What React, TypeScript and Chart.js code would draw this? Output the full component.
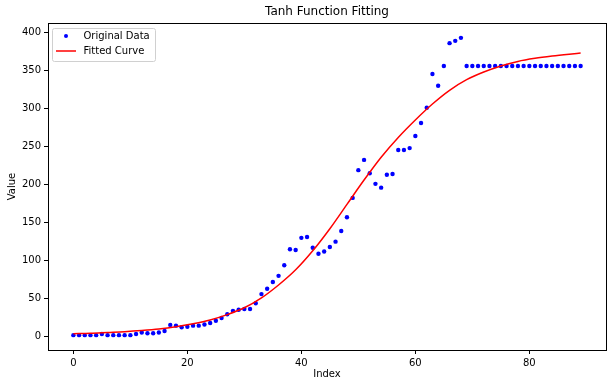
import React, { useEffect, useRef } from "react";
import { Chart, registerables } from "chart.js";

Chart.register(...registerables);

// Original data: index 0..89
const originalValues: number[] = [
  2, 2, 2, 2, 2, 3.5, 2, 2, 2, 2,
  2, 3.5, 5.5, 4.5, 4.5, 5.5, 7.5, 15.5, 14.5, 12.5,
  13, 14.5, 14.5, 16, 18, 21, 24.5, 29.5, 34, 35.5,
  36.5, 36.5, 44, 56, 63, 72, 80, 94, 115, 114,
  130, 131, 117, 109, 112, 118, 125, 139, 157, 182.5,
  219, 232.5, 215, 201, 196, 213, 214, 245.5, 245.5, 248,
  264, 281, 301, 345.5, 330, 356, 386, 389, 393, 356,
  356, 356, 356, 356, 356, 356, 356, 356, 356, 356,
  356, 356, 356, 356, 356, 356, 356, 356, 356, 356,
];

// Fitted curve
const fitIndex: number[] = [0, 3, 6, 9, 12, 15, 18, 21, 24, 27, 30, 33, 36, 39, 42, 45, 48, 51, 54, 57, 60, 63, 66, 69, 72, 75, 78, 81, 84, 87, 89];
const fitValues: number[] = [4, 4.5, 5.5, 6.5, 8, 10, 13, 17, 22, 29, 38, 51, 68, 88, 113, 142, 174, 206, 236, 262, 285, 306, 324, 338, 348, 356, 362, 366, 369, 371.5, 373];

const xTicks: number[] = [0, 20, 40, 60, 80];
const yTicks: number[] = [0, 50, 100, 150, 200, 250, 300, 350, 400];

const FONT = "'DejaVu Sans', sans-serif";

const framePlugin = {
  id: "frameAndLegend",
  afterDraw(chart: any) {
    const { ctx, chartArea } = chart;
    ctx.save();
    ctx.strokeStyle = "#000";
    ctx.lineWidth = 1;
    ctx.strokeRect(
      Math.round(chartArea.left) + 0.5,
      Math.round(chartArea.top) + 0.5,
      Math.round(chartArea.right - chartArea.left),
      Math.round(chartArea.bottom - chartArea.top)
    );
    // legend
    const lx = chartArea.left + 4.5;
    const ly = chartArea.top + 5.5;
    const lw = 103;
    const lh = 33;
    ctx.beginPath();
    const r = 2;
    ctx.moveTo(lx + r, ly);
    ctx.lineTo(lx + lw - r, ly);
    ctx.quadraticCurveTo(lx + lw, ly, lx + lw, ly + r);
    ctx.lineTo(lx + lw, ly + lh - r);
    ctx.quadraticCurveTo(lx + lw, ly + lh, lx + lw - r, ly + lh);
    ctx.lineTo(lx + r, ly + lh);
    ctx.quadraticCurveTo(lx, ly + lh, lx, ly + lh - r);
    ctx.lineTo(lx, ly + r);
    ctx.quadraticCurveTo(lx, ly, lx + r, ly);
    ctx.closePath();
    ctx.fillStyle = "rgba(255,255,255,0.8)";
    ctx.fill();
    ctx.strokeStyle = "#d0d0d0";
    ctx.stroke();

    ctx.fillStyle = "#0000ff";
    ctx.beginPath();
    ctx.arc(lx + 13.5, ly + 7.5, 2, 0, Math.PI * 2);
    ctx.fill();

    ctx.strokeStyle = "#ff0000";
    ctx.lineWidth = 1.5;
    ctx.beginPath();
    ctx.moveTo(lx + 3.5, ly + 22.5);
    ctx.lineTo(lx + 23.5, ly + 22.5);
    ctx.stroke();

    ctx.fillStyle = "#000";
    ctx.font = `10px ${FONT}`;
    ctx.textBaseline = "middle";
    ctx.textAlign = "left";
    ctx.fillText("Original Data", lx + 31, ly + 7.5);
    ctx.fillText("Fitted Curve", lx + 31, ly + 22.5);
    ctx.restore();
  },
};

export default function App() {
  const ref = useRef<HTMLCanvasElement | null>(null);

  useEffect(() => {
    document.body.style.margin = "0";
    const canvas = ref.current;
    if (!canvas) return;
    const chart = new Chart(canvas, {
      type: "scatter",
      data: {
        datasets: [
          {
            label: "Original Data",
            data: originalValues.map((v, i) => ({ x: i, y: v })),
            showLine: false,
            pointRadius: 2.2,
            pointHoverRadius: 2.2,
            pointBackgroundColor: "#0000ff",
            pointBorderWidth: 0,
            borderColor: "#0000ff",
            order: 2,
          },
          {
            label: "Fitted Curve",
            data: fitIndex.map((x, i) => ({ x, y: fitValues[i] })),
            showLine: true,
            pointRadius: 0,
            borderColor: "#ff0000",
            borderWidth: 1.5,
            cubicInterpolationMode: "monotone",
            order: 1,
          },
        ],
      },
      options: {
        responsive: false,
        animation: false,
        layout: { padding: { left: 0, right: 6, top: 0, bottom: 0 } },
        plugins: {
          legend: { display: false },
          tooltip: { enabled: false },
          title: {
            display: true,
            text: "Tanh Function Fitting",
            fullSize: false,
            color: "#000",
            font: { family: FONT, size: 12, weight: "normal", lineHeight: 1.2 },
            padding: { top: 5, bottom: 3.6 },
          },
        },
        scales: {
          x: {
            type: "linear",
            min: -4.45,
            max: 93.45,
            afterBuildTicks: (s: any) => {
              s.ticks = xTicks.map((v) => ({ value: v }));
            },
            afterFit: (s: any) => {
              s.height = 37;
            },
            grid: { display: true, drawOnChartArea: false, drawTicks: true, tickLength: 4, color: "#000" },
            border: { display: true, color: "#000" },
            ticks: { color: "#000", padding: 3, font: { family: FONT, size: 10 }, maxRotation: 0 },
            title: {
              display: true,
              text: "Index",
              color: "#000",
              font: { family: FONT, size: 10, lineHeight: 1.2 },
              padding: { top: 0, bottom: 7 },
            },
          },
          y: {
            type: "linear",
            min: -17.5,
            max: 412.5,
            afterBuildTicks: (s: any) => {
              s.ticks = yTicks.map((v) => ({ value: v }));
            },
            afterFit: (s: any) => {
              s.width = 48;
            },
            grid: { display: true, drawOnChartArea: false, drawTicks: true, tickLength: 4, color: "#000" },
            border: { display: true, color: "#000" },
            ticks: { color: "#000", padding: 3, font: { family: FONT, size: 10 } },
            title: {
              display: true,
              text: "Value",
              color: "#000",
              font: { family: FONT, size: 10, lineHeight: 1.2 },
              padding: { top: 6, bottom: 0 },
            },
          },
        },
      },
      plugins: [framePlugin],
    } as any);
    return () => chart.destroy();
  }, []);

  return (
    <div style={{ width: 612, height: 387 }}>
      <canvas ref={ref} width={612} height={387} style={{ display: "block" }} />
    </div>
  );
}
